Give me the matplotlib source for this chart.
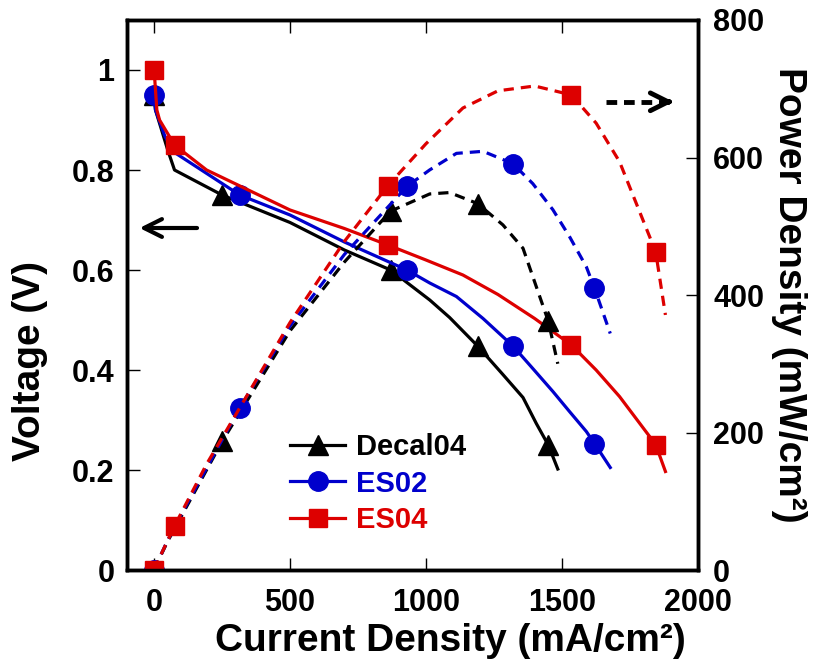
import matplotlib.pyplot as plt

plt.rcParams['font.family'] = ['Liberation Sans', 'DejaVu Sans']
plt.rcParams['font.weight'] = 'bold'
plt.rcParams['axes.labelweight'] = 'bold'

# Decal04
decal_i = [0, 5, 50, 75, 250, 500, 700, 870, 1014, 1087, 1190, 1283, 1357, 1406, 1450, 1485]
decal_v = [0.95, 0.92, 0.84, 0.80, 0.75, 0.695, 0.64, 0.60, 0.54, 0.505, 0.448, 0.391, 0.345, 0.293, 0.25, 0.202]
decal_p = [0, 5, 42, 60, 187, 348, 448, 522, 547, 549, 533, 502, 468, 412, 362, 300]
decal_mk = [0, 4, 7, 10, 14]

# ES02
es02_i = [0, 5, 40, 75, 315, 500, 700, 930, 1014, 1112, 1210, 1320, 1393, 1467, 1528, 1590, 1620, 1678]
es02_v = [0.95, 0.92, 0.867, 0.835, 0.75, 0.71, 0.656, 0.60, 0.574, 0.547, 0.503, 0.448, 0.403,
          0.357, 0.317, 0.277, 0.253, 0.205]
es02_p = [0, 5, 35, 63, 236, 355, 459, 558, 582, 606, 609, 591, 562, 524, 485, 441, 410, 344]
es02_mk = [0, 4, 7, 11, 16]

# ES04
es04_i = [0, 10, 20, 75, 193, 500, 700, 860, 1000, 1136, 1265, 1400, 1535, 1626, 1712, 1845, 1881]
es04_v = [1.0, 0.92, 0.90, 0.85, 0.80, 0.72, 0.683, 0.65, 0.62, 0.59, 0.551, 0.503, 0.45, 0.40,
          0.347, 0.251, 0.197]
es04_p = [0, 9, 18, 64, 154, 360, 478, 559, 620, 672, 697, 704, 691, 650, 594, 463, 371]
es04_mk = [0, 3, 7, 12, 15]

x_ticks = [0, 500, 1000, 1500, 2000]
v_ticks = [0, 0.2, 0.4, 0.6, 0.8, 1.0]
v_labels = ['0', '0.2', '0.4', '0.6', '0.8', '1']
p_ticks = [0, 200, 400, 600, 800]

BLACK = 'black'
BLUE = '#0000CC'
RED = '#DD0000'

series = [
    ('Decal04', decal_i, decal_v, decal_p, decal_mk, BLACK, '^', 15),
    ('ES02', es02_i, es02_v, es02_p, es02_mk, BLUE, 'o', 14),
    ('ES04', es04_i, es04_v, es04_p, es04_mk, RED, 's', 12.5),
]

fig = plt.figure(figsize=(8.19, 6.71), dpi=100)
ax = fig.add_axes([0.155, 0.1505, 0.697, 0.8197])
ax2 = ax.twinx()

for name, cur, volt, pw, mk, col, m, ms in series:
    ax.plot(cur, volt, color=col, lw=2.3, marker=m, ms=ms, markevery=mk, label=name)
    ax2.plot(cur, pw, color=col, lw=2.3, ls=(0, (3.2, 2.2)), marker=m, ms=ms, markevery=mk)

ax.set_xlim(-100, 2000)
ax.set_ylim(0, 1.1)
ax2.set_ylim(0, 800)
ax.set_xticks(x_ticks)
ax.set_yticks(v_ticks)
ax.set_yticklabels(v_labels)
ax2.set_yticks(p_ticks)

ax.tick_params(axis='x', direction='in', length=9, width=1, top=True, labelsize=22, pad=13)
ax.tick_params(axis='y', direction='in', length=9, width=1, labelsize=22, pad=9)
ax2.tick_params(axis='y', direction='in', length=9, width=1, labelsize=22, pad=11)
for a in (ax, ax2):
    for s in a.spines.values():
        s.set_linewidth(2.5)

ax.set_xlabel('Current Density (mA/cm²)', fontsize=28)
ax.xaxis.set_label_coords(0.567, -0.097)
ax.set_ylabel('Voltage (V)', fontsize=28)
ax.yaxis.set_label_coords(-0.138, 0.38)
ax2.set_ylabel('Power Density (mW/cm²)', fontsize=28, rotation=270, labelpad=31)

# direction arrows
ax.annotate('', xy=(-64, 0.684), xytext=(168, 0.684),
            arrowprops=dict(arrowstyle='->', lw=3, color='black', mutation_scale=32))
ax2.plot([1661, 1900], [681, 681], color='black', lw=3.5, ls=(0, (2.2, 1.4)))
ax2.annotate('', xy=(1921, 681), xytext=(1880, 681),
             arrowprops=dict(arrowstyle='->', lw=3.5, color='black', mutation_scale=32))

ax.legend(loc='upper left', bbox_to_anchor=(0.354, 0.355), bbox_transform=fig.transFigure,
          frameon=False, fontsize=21, handlelength=1.9, handletextpad=0.35,
          labelspacing=0.3, borderpad=0, borderaxespad=0, numpoints=1,
          labelcolor='linecolor')

plt.savefig('out.png', dpi=100)
